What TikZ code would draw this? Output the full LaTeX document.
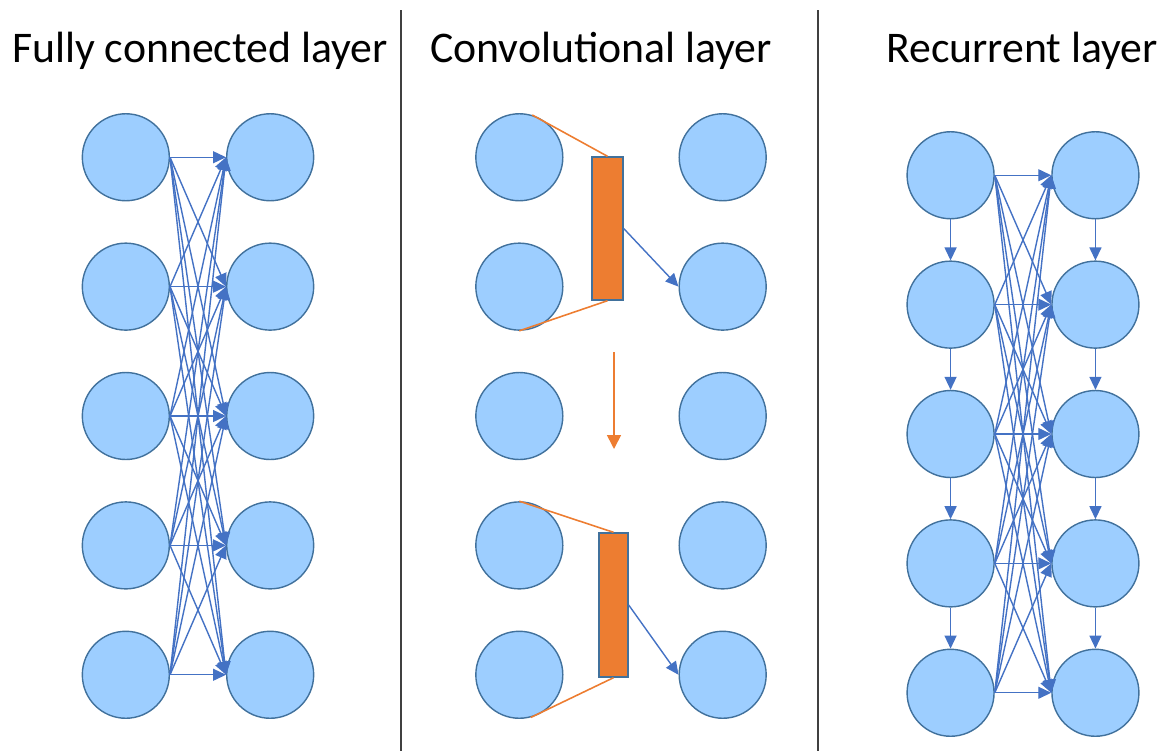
\documentclass[tikz,border=0pt]{standalone}
\usepackage{fontspec}
\setmainfont{Carlito}
\usepackage{xcolor}
\usepackage{tikz}
\usetikzlibrary{matrix,arrows.meta}

\definecolor{cellfill}{RGB}{157,206,255}
\definecolor{cellline}{RGB}{65,113,156}
\definecolor{linkblue}{RGB}{68,114,196}
\definecolor{filterorange}{RGB}{237,125,49}
\definecolor{sepgray}{RGB}{64,64,64}

\tikzset{
  neuron/.style={circle, draw=cellline, fill=cellfill, line width=0.8pt, minimum size=1.74cm, inner sep=0pt},
  link/.style={draw=linkblue, line width=0.8pt, -{Triangle[length=0.26cm, width=0.24cm]}},
  filterbox/.style={rectangle, draw=cellline, fill=filterorange, line width=0.8pt, inner sep=0pt},
  filterline/.style={draw=filterorange, line width=0.9pt},
  slide/.style={draw=filterorange, line width=0.9pt, -{Triangle[length=0.28cm, width=0.28cm]}},
  separator/.style={draw=sepgray, line width=1.2pt},
  title/.style={anchor=base, inner sep=0pt, font=\fontsize{24.9}{29}\selectfont}
}

\begin{document}
\begin{tikzpicture}[x=0.02cm, y=-0.02cm]
\useasboundingbox (0,0) rectangle (1166,751);

% titles and separators
\node[title] (tfc) at (200,62) {Fully connected layer};
\node[title] (tcv) at (601,62) {Convolutional layer};
\node[title] (trc) at (1022,62) {Recurrent layer};
\draw[separator] (401,10) -- (401,751);
\draw[separator] (818,10) -- (818,751);

% fully connected layer
\matrix (fc) [matrix of nodes, nodes={neuron}, nodes in empty cells, column sep=1.12cm, row sep=0.82cm] at (198,416) {
  & \\
  & \\
  & \\
  & \\
  & \\
};
\foreach \i in {1,...,5}
  \foreach \j in {1,...,5}
    \draw[link] (fc-\i-1.east) -- (fc-\j-2.west);

% convolutional layer
\matrix (cv) [matrix of nodes, nodes={neuron}, nodes in empty cells, column sep=2.3cm, row sep=0.82cm] at (621,416) {
  & \\
  & \\
  & \\
  & \\
  & \\
};
\node[filterbox, minimum width=0.62cm, minimum height=2.86cm] (filtA) at (607.5,228.5) {};
\node[filterbox, minimum width=0.58cm, minimum height=2.88cm] (filtB) at (613.5,605) {};
\draw[filterline] (cv-1-1.73) -- (filtA.north);
\draw[filterline] (cv-2-1.south) -- (filtA.south);
\draw[filterline] (cv-4-1.north) -- (filtB.north);
\draw[filterline] (cv-5-1.-75) -- (filtB.south);
\draw[link] (filtA.east) -- (cv-2-2.west);
\draw[link] (filtB.east) -- (cv-5-2.west);
\coordinate (slideA) at (614,352);
\coordinate (slideB) at (614,449);
\draw[slide] (slideA) -- (slideB);

% recurrent layer
\matrix (rc) [matrix of nodes, nodes={neuron}, nodes in empty cells, column sep=1.13cm, row sep=0.82cm] at (1023,434) {
  & \\
  & \\
  & \\
  & \\
  & \\
};
\foreach \i in {1,...,5}
  \foreach \j in {1,...,5}
    \draw[link] (rc-\i-1.east) -- (rc-\j-2.west);
\foreach \i/\k in {1/2,2/3,3/4,4/5} {
  \draw[link] (rc-\i-1.south) -- (rc-\k-1.north);
  \draw[link] (rc-\i-2.south) -- (rc-\k-2.north);
}
\end{tikzpicture}
\end{document}
